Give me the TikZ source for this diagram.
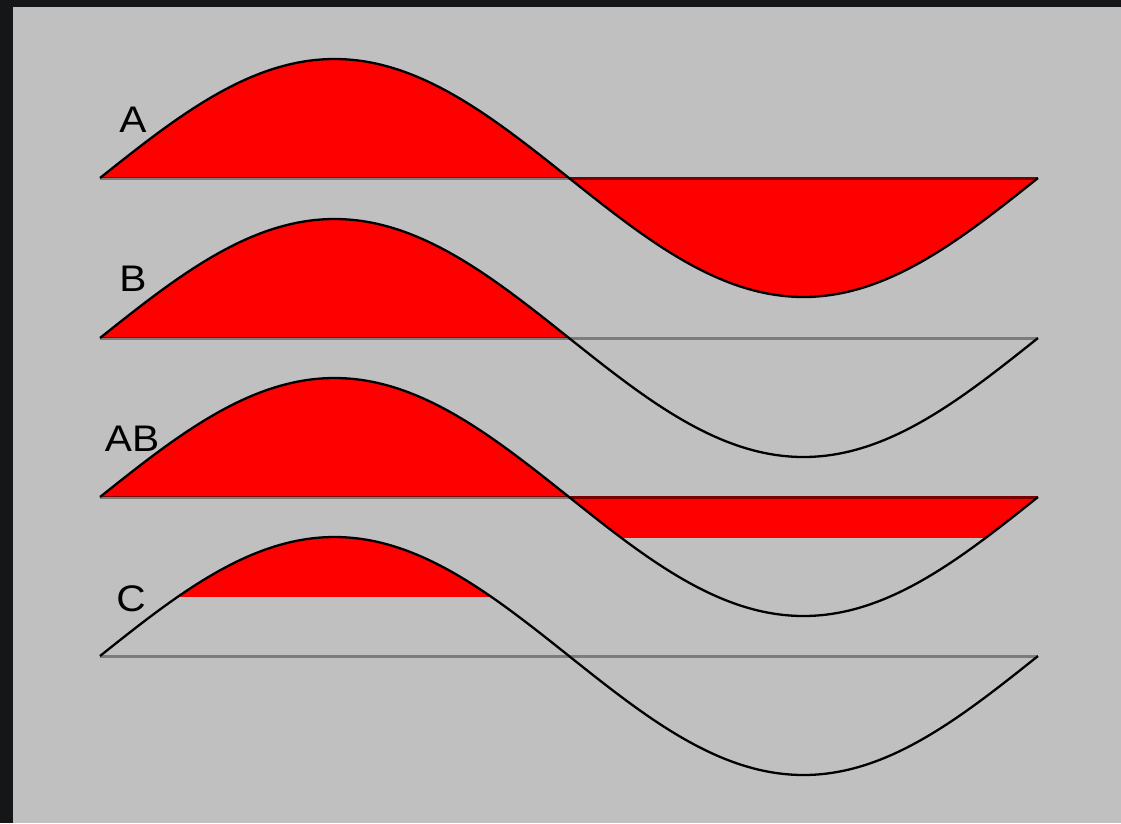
\documentclass[tikz,border=0pt]{standalone}
\usepackage{fontspec}
\setmainfont{Liberation Sans}
\definecolor{bgdark}{HTML}{151617}
\definecolor{panel}{HTML}{C0C0C0}
\definecolor{wred}{HTML}{FF0000}
\definecolor{dred}{HTML}{7A0000}
\definecolor{basegray}{HTML}{7C7C7C}
\tikzset{
  wavefill/.style={fill=wred},
  baseline/.style={draw=basegray,line width=2.6pt},
  redtop/.style={draw=dred,line width=2.6pt},
  redthin/.style={draw=dred,line width=1pt},
  curve/.style={draw=black,line width=2.3pt,line join=round},
  lbl/.style={font=\fontsize{37}{37}\selectfont,text=black,inner sep=0pt,xscale=1.1}
}
\newcommand\wv[3]{plot[domain=#2:#3,samples=240] (\x,{#1-119*sin(((\x-100)/938)*360)})}
\begin{document}
\begin{tikzpicture}[x=1pt,y=-1pt]
\useasboundingbox (0,0) rectangle (1121,823);
\fill[bgdark] (0,0) rectangle (1121,823);
\fill[panel] (13,7) rectangle (1121,823);
% A
\fill[wavefill] \wv{178}{100}{1038} -- cycle;
% B
\fill[wavefill] \wv{338}{100}{569} -- cycle;
% AB
\fill[wavefill] \wv{497}{100}{569} -- cycle;
\begin{scope}
  \clip (569,497) rectangle (1038,537);
  \fill[wavefill] \wv{497}{569}{1038} -- cycle;
\end{scope}
% C
\begin{scope}
  \clip (100,530) rectangle (1038,596);
  \fill[wavefill] \wv{656}{100}{569} -- cycle;
\end{scope}
% baselines
\foreach \yy in {178,338,497,656} {
  \draw[baseline] (100,\yy+0.6) -- (1038,\yy+0.6);
}
\draw[redtop] (569,178.6) -- (1038,178.6);
\draw[redtop] (569,497.6) -- (1038,497.6);
\draw[redthin] (100,177.2) -- (569,177.2);
\draw[redthin] (100,337.2) -- (569,337.2);
\draw[redthin] (100,496.2) -- (569,496.2);
% curves
\foreach \yy in {178,338,497,656} {
  \draw[curve] \wv{\yy}{100}{1038};
}
% labels
\node[lbl] (la) at (133,120) {A};
\node[lbl] (lb) at (133,279) {B};
\node[lbl] (lab) at (132,439) {AB};
\node[lbl] (lc) at (131,599) {C};
\end{tikzpicture}
\end{document}
